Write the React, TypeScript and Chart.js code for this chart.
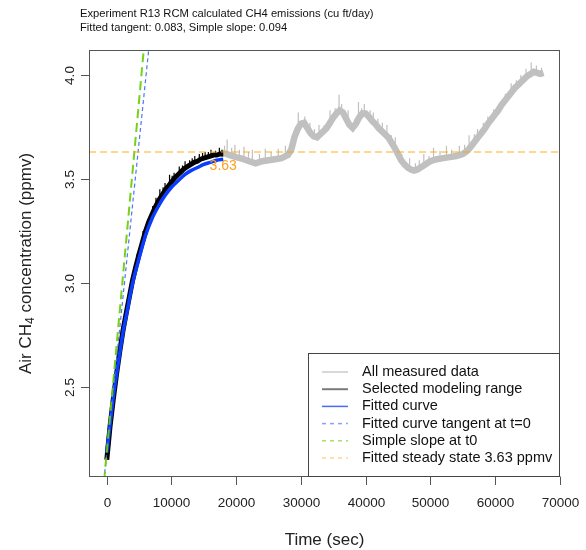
import React, { useEffect, useRef } from "react";
import { Chart, registerables } from "chart.js";
Chart.register(...registerables);

const TITLE_LINES = [
  "Experiment R13 RCM calculated CH4 emissions (cu ft/day)",
  "Fitted tangent: 0.083, Simple slope: 0.094",
];
const X_TITLE = "Time (sec)";
const Y_TITLE_PARTS = ["Air CH", "4", " concentration (ppmv)"];
const X_TICKS = [0, 10000, 20000, 30000, 40000, 50000, 60000, 70000];
const X_TICK_LABELS = ["0", "10000", "20000", "30000", "40000", "50000", "60000", "70000"];
const Y_TICKS = [2.5, 3.0, 3.5, 4.0];
const Y_TICK_LABELS = ["2.5", "3.0", "3.5", "4.0"];
const X_RANGE = [-2750, 70050];
const Y_RANGE = [2.067, 4.12];

const LEGEND_LABELS = [
  "All measured data",
  "Selected modeling range",
  "Fitted curve",
  "Fitted curve tangent at t=0",
  "Simple slope at t0",
  "Fitted steady state 3.63 ppmv",
];

// All measured data (grey), centre of the band
const ALL_T = [17500, 18000, 18500, 19000, 20000, 21000, 22000, 23000, 24000, 25000, 26000, 27000, 28000, 28500, 29000, 29500, 30000, 30500, 31000, 31500, 32000, 32500, 33000, 33500, 34000, 34500, 35000, 35500, 36000, 36500, 37000, 37500, 38000, 38500, 39000, 39500, 40000, 40500, 41000, 41500, 42000, 42500, 43000, 43500, 44000, 44500, 45000, 45500, 46000, 46500, 47000, 47500, 48000, 48500, 49000, 49500, 50000, 51000, 52000, 53000, 54000, 55000, 55500, 56000, 56500, 57000, 57500, 58000, 58500, 59000, 59500, 60000, 60500, 61000, 61500, 62000, 62500, 63000, 63500, 64000, 64500, 65000, 65500, 66000, 66500, 67000, 67500];
const ALL_Y = [3.615, 3.625, 3.62, 3.615, 3.605, 3.597, 3.585, 3.575, 3.585, 3.59, 3.595, 3.6, 3.615, 3.64, 3.7, 3.74, 3.765, 3.77, 3.745, 3.72, 3.705, 3.7, 3.715, 3.73, 3.745, 3.77, 3.795, 3.815, 3.83, 3.82, 3.79, 3.76, 3.745, 3.765, 3.795, 3.815, 3.815, 3.8, 3.78, 3.765, 3.745, 3.73, 3.715, 3.7, 3.675, 3.65, 3.62, 3.59, 3.57, 3.555, 3.545, 3.54, 3.545, 3.555, 3.565, 3.575, 3.585, 3.595, 3.6, 3.605, 3.61, 3.62, 3.63, 3.645, 3.665, 3.685, 3.705, 3.725, 3.745, 3.77, 3.79, 3.81, 3.83, 3.855, 3.875, 3.895, 3.915, 3.935, 3.95, 3.965, 3.98, 3.995, 4.005, 4.015, 4.01, 4.005, 4.01];
const ALL_SPIKE_T = [18200, 18600, 19300, 19800, 20500, 21200, 21900, 22500, 23600, 24500, 25400, 26500, 27600, 28900, 29600, 30600, 31400, 32100, 32800, 33600, 34500, 35300, 35900, 36300, 37300, 38400, 38900, 39400, 39800, 40700, 41200, 41900, 42600, 43300, 44000, 44600, 45600, 46800, 47700, 48300, 49000, 49800, 50500, 51500, 52500, 53300, 54500, 55300, 56000, 56800, 57300, 58200, 58900, 59800, 60800, 61600, 62500, 63300, 64000, 64800, 65600, 66400, 67200];
const ALL_SPIKE_BASE = [3.625, 3.62, 3.612, 3.605, 3.6, 3.595, 3.587, 3.58, 3.58, 3.588, 3.592, 3.598, 3.61, 3.69, 3.745, 3.77, 3.735, 3.705, 3.705, 3.725, 3.77, 3.805, 3.83, 3.825, 3.775, 3.755, 3.79, 3.81, 3.815, 3.795, 3.775, 3.75, 3.73, 3.705, 3.675, 3.645, 3.585, 3.55, 3.54, 3.548, 3.565, 3.578, 3.59, 3.597, 3.6, 3.605, 3.615, 3.625, 3.645, 3.675, 3.695, 3.73, 3.765, 3.8, 3.84, 3.87, 3.915, 3.94, 3.965, 3.99, 4.007, 4.012, 4.005];
const ALL_SPIKE_PEAK = [3.66, 3.69, 3.65, 3.665, 3.64, 3.655, 3.63, 3.64, 3.62, 3.645, 3.63, 3.645, 3.66, 3.73, 3.82, 3.8, 3.77, 3.74, 3.76, 3.76, 3.83, 3.84, 3.905, 3.86, 3.83, 3.79, 3.87, 3.84, 3.86, 3.83, 3.82, 3.79, 3.77, 3.76, 3.71, 3.7, 3.62, 3.6, 3.575, 3.59, 3.62, 3.61, 3.65, 3.635, 3.66, 3.64, 3.66, 3.665, 3.71, 3.715, 3.74, 3.77, 3.8, 3.835, 3.87, 3.91, 3.96, 3.975, 4.0, 4.03, 4.06, 4.045, 4.035];

// Selected modeling range (black)
const SEL_T = [0, 500, 1000, 1500, 2000, 2500, 3000, 3500, 4000, 4500, 5000, 5500, 6000, 6500, 7000, 7500, 8000, 8500, 9000, 9500, 10000, 10500, 11000, 11500, 12000, 12500, 13000, 13500, 14000, 14500, 15000, 15500, 16000, 16500, 17000, 17500, 18000];
const SEL_Y = [2.15, 2.31, 2.44, 2.56, 2.67, 2.77, 2.855, 2.935, 3.015, 3.08, 3.14, 3.195, 3.25, 3.295, 3.33, 3.365, 3.395, 3.42, 3.445, 3.465, 3.485, 3.505, 3.52, 3.535, 3.55, 3.56, 3.57, 3.58, 3.585, 3.595, 3.6, 3.605, 3.61, 3.615, 3.615, 3.62, 3.62];
const SEL_SPIKE_T = [4700, 5600, 6300, 7100, 7600, 8200, 8700, 9000, 9700, 10100, 10400, 11200, 11700, 12100, 12800, 13200, 13600, 14300, 14800, 15200, 15700, 16100, 16800, 17400, 17800];
const SEL_SPIKE_BASE = [3.1, 3.2, 3.27, 3.33, 3.365, 3.4, 3.425, 3.44, 3.47, 3.485, 3.495, 3.52, 3.535, 3.545, 3.56, 3.57, 3.575, 3.585, 3.595, 3.595, 3.605, 3.605, 3.61, 3.615, 3.62];
const SEL_SPIKE_PEAK = [3.14, 3.25, 3.3, 3.37, 3.41, 3.45, 3.46, 3.48, 3.52, 3.515, 3.53, 3.56, 3.565, 3.585, 3.59, 3.6, 3.61, 3.62, 3.625, 3.63, 3.63, 3.64, 3.635, 3.65, 3.64];

// Fitted curve (blue)
const FIT_T = [0, 500, 1000, 1500, 2000, 2500, 3000, 4000, 5000, 6000, 7000, 8000, 9000, 10000, 11000, 12000, 13000, 14000, 15000, 16000, 17000, 18000];
const FIT_Y = [2.185, 2.32, 2.45, 2.56, 2.66, 2.76, 2.84, 3.0, 3.12, 3.23, 3.31, 3.37, 3.42, 3.46, 3.49, 3.52, 3.54, 3.555, 3.57, 3.58, 3.59, 3.595];

// Straight lines (end points)
const TANGENT_T = [-1000, 7000];
const TANGENT_Y = [1.885, 4.277];
const SLOPE_T = [-1000, 7000];
const SLOPE_Y = [1.849, 4.557];
const STEADY_T = [-2750, 70050];
const STEADY_Y = [3.63, 3.63];
const STEADY_LABEL = "3.63";
const STEADY_LABEL_T = 18000;

const FONT = "'Liberation Sans', Arial, Helvetica, sans-serif";

const COLORS = {
  all: "#c0c0c0",
  sel: "#000000",
  fit: "#0a3cff",
  tangent: "rgba(60,100,255,0.9)",
  slope: "rgba(102,205,0,0.9)",
  steady: "rgba(255,165,0,0.6)",
  label: "#ffa01e",
};

function pts(t: number[], y: number[]) {
  return t.map((v, i) => ({ x: v, y: y[i] }));
}
function spikes(t: number[], b: number[], p: number[]) {
  const out: any[] = [];
  t.forEach((v, i) => {
    out.push({ x: v, y: b[i] });
    out.push({ x: v, y: p[i] });
    out.push({ x: v, y: null });
  });
  return out;
}

const decorPlugin = {
  id: "decor",
  afterDraw(chart: any) {
    const ctx = chart.ctx as CanvasRenderingContext2D;
    const { left, right, top, bottom } = chart.chartArea;
    const xs = chart.scales.x;
    const ys = chart.scales.y;
    ctx.save();

    // steady state label
    ctx.fillStyle = COLORS.label;
    ctx.font = `14px ${FONT}`;
    ctx.textAlign = "center";
    ctx.textBaseline = "middle";
    ctx.fillText(STEADY_LABEL, xs.getPixelForValue(STEADY_LABEL_T), ys.getPixelForValue(3.63) + 14);

    // box
    ctx.strokeStyle = "#555";
    ctx.lineWidth = 1;
    ctx.strokeRect(left + 0.5, top + 0.5, right - left - 1, bottom - top - 1);

    // x ticks
    ctx.fillStyle = "#222";
    ctx.font = `13.5px ${FONT}`;
    ctx.textAlign = "center";
    ctx.textBaseline = "middle";
    X_TICKS.forEach((v, i) => {
      const px = Math.round(xs.getPixelForValue(v)) + 0.5;
      ctx.beginPath();
      ctx.moveTo(px, bottom - 0.5);
      ctx.lineTo(px, bottom + 8);
      ctx.stroke();
      ctx.fillText(X_TICK_LABELS[i], px, 503);
    });
    // y ticks
    Y_TICKS.forEach((v, i) => {
      const py = Math.round(ys.getPixelForValue(v)) + 0.5;
      ctx.beginPath();
      ctx.moveTo(left + 0.5, py);
      ctx.lineTo(left - 8, py);
      ctx.stroke();
      ctx.save();
      ctx.translate(70, py);
      ctx.rotate(-Math.PI / 2);
      ctx.fillText(Y_TICK_LABELS[i], 0, 0);
      ctx.restore();
    });

    // axis titles
    ctx.font = `17px ${FONT}`;
    ctx.fillText(X_TITLE, (left + right) / 2, 540);
    ctx.save();
    ctx.translate(26, (top + bottom) / 2);
    ctx.rotate(-Math.PI / 2);
    const bigF = `17px ${FONT}`;
    const smallF = `12px ${FONT}`;
    ctx.font = bigF;
    const w0 = ctx.measureText(Y_TITLE_PARTS[0]).width;
    const w2 = ctx.measureText(Y_TITLE_PARTS[2]).width;
    ctx.font = smallF;
    const w1 = ctx.measureText(Y_TITLE_PARTS[1]).width;
    let x0 = -(w0 + w1 + w2) / 2;
    ctx.textAlign = "left";
    ctx.font = bigF;
    ctx.fillText(Y_TITLE_PARTS[0], x0, 0);
    ctx.font = smallF;
    ctx.fillText(Y_TITLE_PARTS[1], x0 + w0, 5);
    ctx.font = bigF;
    ctx.fillText(Y_TITLE_PARTS[2], x0 + w0 + w1, 0);
    ctx.restore();

    // title
    ctx.font = `11.2px ${FONT}`;
    ctx.textAlign = "left";
    ctx.fillStyle = "#111";
    ctx.fillText(TITLE_LINES[0], 80, 14);
    ctx.fillText(TITLE_LINES[1], 80, 28);

    // legend
    const lx0 = 308, ly0 = 353, lx1 = right, ly1 = bottom;
    ctx.fillStyle = "#fff";
    ctx.fillRect(lx0, ly0, lx1 - lx0, ly1 - ly0);
    ctx.strokeStyle = "#444";
    ctx.strokeRect(lx0 + 0.5, ly0 + 0.5, lx1 - lx0 - 1, ly1 - ly0 - 1);
    const styles = [
      { c: "rgba(190,190,190,0.6)", w: 2, d: [] as number[] },
      { c: "rgba(90,90,90,0.8)", w: 2, d: [] as number[] },
      { c: "rgba(40,80,255,0.85)", w: 1.5, d: [] as number[] },
      { c: "rgba(60,100,255,0.6)", w: 1.5, d: [4, 4] },
      { c: "rgba(102,205,0,0.6)", w: 1.5, d: [4, 4] },
      { c: "rgba(255,165,0,0.45)", w: 1.5, d: [4, 4] },
    ];
    ctx.font = `14.5px ${FONT}`;
    ctx.textBaseline = "middle";
    LEGEND_LABELS.forEach((lab, i) => {
      const y = 372 + i * 17.2;
      const s = styles[i];
      ctx.strokeStyle = s.c;
      ctx.lineWidth = s.w;
      ctx.setLineDash(s.d);
      ctx.beginPath();
      ctx.moveTo(322, y);
      ctx.lineTo(348, y);
      ctx.stroke();
      ctx.setLineDash([]);
      ctx.fillStyle = "#111";
      ctx.fillText(lab, 362, y);
    });
    ctx.restore();
  },
};

export default function App() {
  const ref = useRef<HTMLCanvasElement>(null);
  useEffect(() => {
    if (!ref.current) return;
    const chart = new Chart(ref.current, {
      type: "line",
      data: {
        datasets: [
          { data: pts(STEADY_T, STEADY_Y), borderColor: COLORS.steady, borderWidth: 1.5, borderDash: [7, 4], order: 1, clip: 0 } as any,
          { data: pts(SLOPE_T, SLOPE_Y), borderColor: COLORS.slope, borderWidth: 2, borderDash: [9, 5], order: 2, clip: 0 } as any,
          { data: pts(TANGENT_T, TANGENT_Y), borderColor: COLORS.tangent, borderWidth: 1.2, borderDash: [4, 3], order: 3, clip: 0 } as any,
          { data: pts(FIT_T, FIT_Y), borderColor: COLORS.fit, borderWidth: 3.5, cubicInterpolationMode: "monotone", order: 4, clip: 0 } as any,
          { data: spikes(SEL_SPIKE_T, SEL_SPIKE_BASE, SEL_SPIKE_PEAK), borderColor: COLORS.sel, borderWidth: 1.2, spanGaps: false, order: 5, clip: 0 } as any,
          { data: pts(SEL_T, SEL_Y), borderColor: COLORS.sel, borderWidth: 5, order: 6, clip: 0 } as any,
          { data: spikes(ALL_SPIKE_T, ALL_SPIKE_BASE, ALL_SPIKE_PEAK), borderColor: COLORS.all, borderWidth: 1.2, spanGaps: false, order: 7, clip: 0 } as any,
          { data: pts(ALL_T, ALL_Y), borderColor: COLORS.all, borderWidth: 6.5, order: 8, clip: 0 } as any,
        ],
      },
      options: {
        responsive: false,
        devicePixelRatio: 1,
        animation: false,
        parsing: false,
        elements: { point: { radius: 0 }, line: { tension: 0 } },
        layout: { padding: { left: 89, top: 50, right: 26, bottom: 73 } },
        scales: {
          x: { type: "linear", min: X_RANGE[0], max: X_RANGE[1], display: false },
          y: { type: "linear", min: Y_RANGE[0], max: Y_RANGE[1], display: false },
        },
        plugins: { legend: { display: false }, tooltip: { enabled: false }, title: { display: false } },
      } as any,
      plugins: [decorPlugin],
    });
    return () => chart.destroy();
  }, []);
  return (
    <div style={{ position: "absolute", left: 0, top: 0, width: 586, height: 550, background: "#fff" }}>
      <canvas ref={ref} width={586} height={550} style={{ width: 586, height: 550 }} />
    </div>
  );
}
